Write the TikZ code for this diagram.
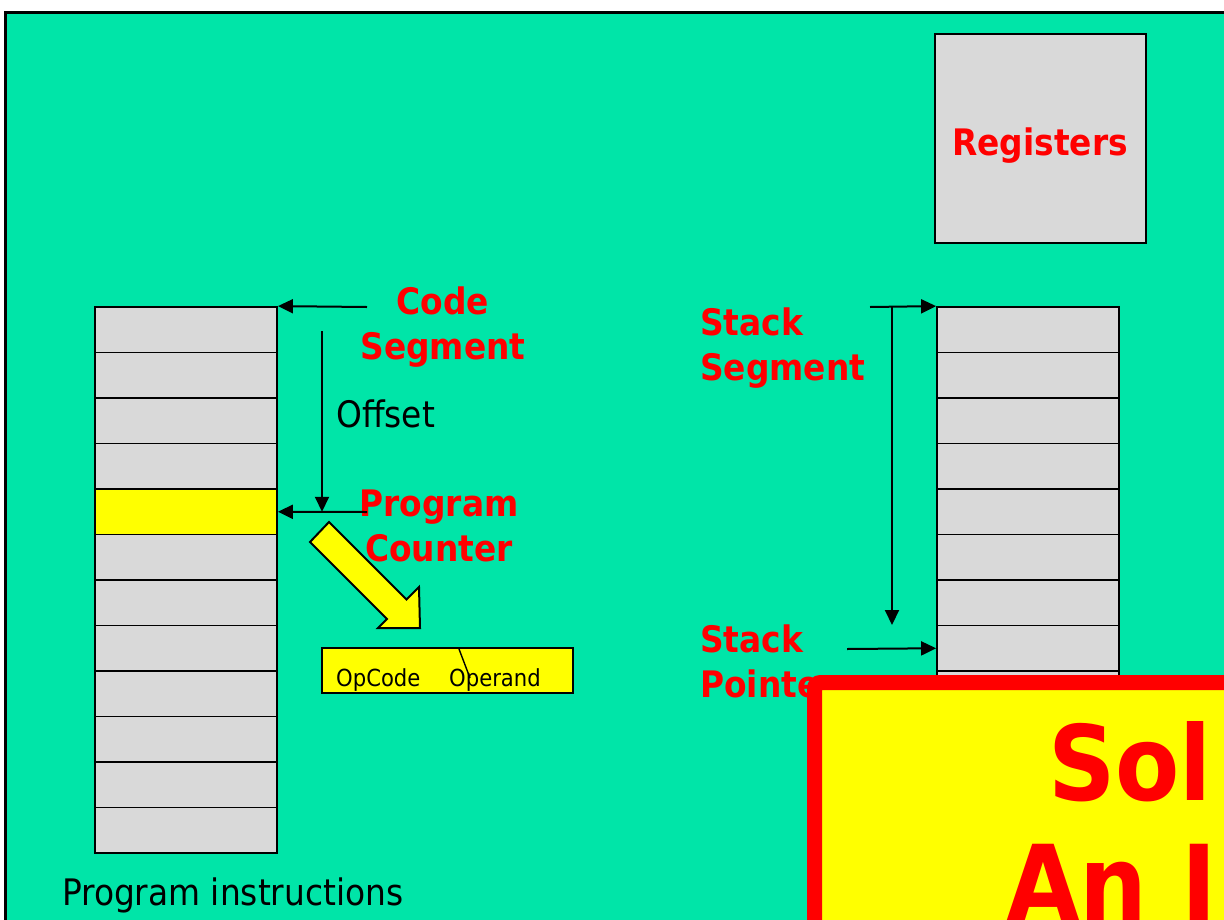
\documentclass[tikz,border=0pt]{standalone}
\usepackage{fontspec}
\setmainfont{DejaVu Sans Condensed}
\usetikzlibrary{arrows.meta}
\definecolor{slidegreen}{RGB}{0,229,168}
\definecolor{cellgray}{RGB}{217,217,217}
\definecolor{hiyellow}{RGB}{255,255,0}

\begin{document}
\begin{tikzpicture}[x=1pt, y=-1pt, >={Triangle[length=15pt,width=14pt]},
	cell/.style={draw, fill=cellgray, line width=1.8pt, minimum width=182pt, minimum height=45.5pt, inner sep=0pt},
	redlabel/.style={text=red, font=\fontsize{36.5}{45}\selectfont\bfseries, align=center, inner sep=0pt},
	plainlabel/.style={font=\fontsize{36.5}{42}\selectfont, inner sep=0pt},
	link/.style={->, line width=2pt}]
	\useasboundingbox (0,0) rectangle (1224,919);
	\clip (0,0) rectangle (1224,919);
	\draw[line width=3pt, fill=slidegreen] (5,12) rectangle (1300,1000);
	% memory columns
	\foreach \i in {1,...,12} {
		\node[cell] (p\i) at (186,{307+45.5*(\i-0.5)}) {};
		\node[cell] (s\i) at (1028,{307+45.5*(\i-0.5)}) {};
	}
	\node[cell, fill=hiyellow] (p5) at (186,{307+45.5*4.5}) {};
	\node[cell, minimum width=211pt, minimum height=209pt] (regs) at (1040.5,138.5) {};
	\node[redlabel, anchor=base] (regtext) at (1040,155) {Registers};
	% code segment and program counter
	\node[redlabel, anchor=north] (cs) at (443,287) {Code\\Segment};
	\node[redlabel, anchor=north] (pc) at (439,490) {Program\\Counter};
	\coordinate (csTail) at (367,307);
	\coordinate (pcTail) at (367,512);
	\coordinate (offTop) at (322,331);
	\coordinate (offEnd) at (p5.east -| offTop);
	\draw[link] (csTail) -- (p1.north east);
	\draw[link] (pcTail) -- (p5.east);
	\draw[link] (offTop) -- (offEnd);
	\node[plainlabel, anchor=base west] (offset) at (336,427) {Offset};
	\node[plainlabel, anchor=base west] (prog) at (62,905) {Program instructions};
	% fetched instruction
	\draw[line width=2pt, fill=hiyellow] (310,542) -- (329,522) -- (406.5,599.5) -- (419,587)
		-- (420,628) -- (378,628) -- (387,619) -- cycle;
	\node[draw, fill=hiyellow, line width=2pt, minimum width=251pt, minimum height=45pt] (instr) at (447.5,670.5) {};
	\draw[line width=1.4pt] (459,649) -- (470,678);
	\node[anchor=base west, inner sep=0pt, font=\fontsize{23.5}{27}\selectfont] (opc) at (336,686) {OpCode};
	\node[anchor=base west, inner sep=0pt, font=\fontsize{23.5}{27}\selectfont] (opd) at (449,686) {Operand};
	% stack segment and stack pointer
	\node[redlabel, anchor=north west, align=left] (ss) at (700,308) {Stack\\Segment};
	\node[redlabel, anchor=north west, align=left] (sp) at (700,625) {Stack\\Pointer};
	\coordinate (ssTail) at (870,307);
	\coordinate (ssTop) at (892,307);
	\coordinate (ssEnd) at (892,625);
	\coordinate (spTail) at (847,649);
	\draw[link] (ssTail) -- (s1.north west);
	\draw[link] (ssTop) -- (ssEnd);
	\draw[link] (spTail) -- (s8.west);
	% overlay box
	\draw[line width=15pt, draw=red, fill=hiyellow, rounded corners=6pt] (814.5,682.5) rectangle (1500,1200);
	\node[anchor=base west, inner sep=0pt, text=red, font=\fontsize{104}{120}\selectfont\bfseries] (sol) at (1048,800) {Sol};
	\node[anchor=base west, inner sep=0pt, text=red, font=\fontsize{106}{120}\selectfont\bfseries] (ani) at (1006,921) {An I};
\end{tikzpicture}
\end{document}
